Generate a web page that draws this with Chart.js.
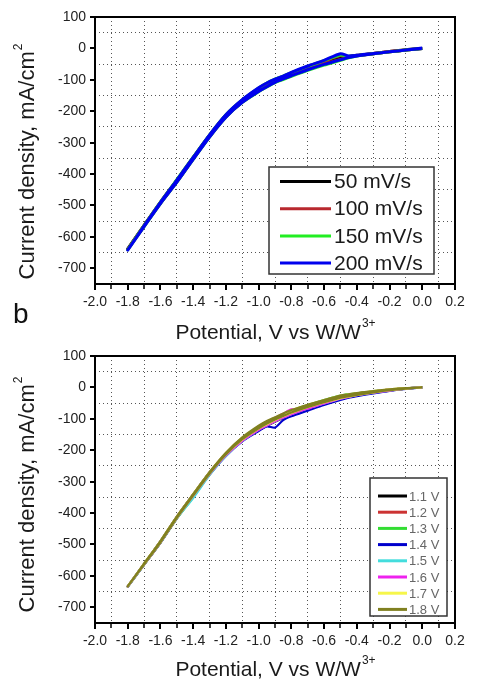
<!DOCTYPE html>
<html>
<head>
<meta charset="utf-8">
<script src="https://cdn.jsdelivr.net/npm/chart.js@4"></script>
<style>
  body { margin: 0; background: #fff; width: 479px; height: 690px; overflow: hidden; position: relative; }
  canvas { position: absolute; left: 0; }
  #chartA { top: 0; }
  #chartB { top: 345px; }
</style>
</head>
<body>
<canvas id="chartA" width="479" height="345"></canvas>
<canvas id="chartB" width="479" height="345"></canvas>
<script>
const FONT = "Arial, 'Liberation Sans', sans-serif";

// potential scan: forward (0 -> -1.8 V) then back to 0
const scanFwd = [0, -0.1, -0.2, -0.3, -0.4, -0.45, -0.5, -0.6, -0.7, -0.8, -0.85, -0.9, -0.95, -1.0, -1.1, -1.2, -1.3, -1.4, -1.5, -1.6, -1.7, -1.8];
const scanRev = [-1.7, -1.6, -1.5, -1.4, -1.3, -1.2, -1.1, -1.0, -0.95, -0.9, -0.85, -0.8, -0.7, -0.6, -0.5, -0.45, -0.4, -0.3, -0.2, -0.1, 0];

// (a) scan rates
const rateLabels = ['50 mV/s', '100 mV/s', '150 mV/s', '200 mV/s'];
const rateColors = ['#000000', '#b8282e', '#22ee22', '#0000ee'];
const j50 = [0, -4, -10, -16, -22, -26, -31, -47, -65, -84, -94, -105, -119, -134, -170, -217, -280, -351, -424, -492, -565, -638,
             -563, -490, -420, -348, -277, -213, -166, -129, -113, -101, -91, -80, -61, -43, -27, -27, -23, -17, -11, -5, 0];
const j100 = [0, -5, -10, -16, -23, -28, -35, -50, -67, -86, -96, -107, -121, -136, -171, -218, -281, -352, -425, -493, -566, -640,
              -563, -489, -419, -347, -276, -212, -165, -127, -111, -99, -89, -78, -59, -41, -23, -26, -23, -17, -11, -5, 0];
const j150 = [0, -5, -11, -17, -24, -30, -38, -53, -70, -89, -99, -109, -123, -138, -172, -219, -282, -353, -426, -494, -567, -641,
              -564, -489, -418, -346, -275, -211, -164, -126, -110, -98, -88, -77, -57, -39, -21, -25, -23, -17, -11, -5, 0];
const j200 = [0, -5, -11, -17, -24, -29, -36, -51, -68, -87, -97, -108, -122, -137, -172, -219, -282, -353, -426, -494, -567, -642,
              -565, -490, -419, -347, -275, -211, -163, -125, -110, -98, -88, -76, -56, -38, -17, -24, -22, -16, -11, -5, 1];
const rateData = [j50, j100, j150, j200];

// (b) charge voltages
const voltLabels = ['1.1 V', '1.2 V', '1.3 V', '1.4 V', '1.5 V', '1.6 V', '1.7 V', '1.8 V'];
const voltColors = ['#000000', '#cc3333', '#33dd33', '#0000cc', '#44dddd', '#ee22ee', '#f6f64a', '#808020'];
const v11 = [0, -4, -10, -17, -26, -31, -37, -52, -68, -86, -97, -109, -122, -136, -170, -216, -276, -345, -416, -494, -564, -634,
             -562, -490, -412, -341, -271, -211, -162, -127, -112, -100, -88, -76, -58, -43, -29, -24, -20, -13, -7, -3, 0];
const v12 = [0, -4, -9, -16, -25, -30, -36, -51, -67, -85, -96, -108, -121, -135, -170, -217, -278, -347, -417, -494, -564, -634,
             -562, -490, -413, -343, -274, -212, -163, -127, -112, -99, -87, -75, -57, -42, -28, -24, -20, -13, -7, -3, 0];
const v13 = [0, -4, -9, -16, -24, -29, -34, -49, -65, -84, -95, -107, -120, -134, -169, -216, -276, -350, -418, -495, -565, -635,
             -563, -491, -413, -342, -272, -211, -162, -126, -111, -99, -87, -74, -56, -40, -26, -22, -19, -13, -7, -3, 0];
const v14 = [0, -5, -11, -19, -28, -33, -40, -56, -74, -92, -104, -128, -124, -139, -172, -218, -277, -346, -416, -494, -564, -634,
             -562, -490, -412, -341, -271, -211, -163, -128, -114, -102, -90, -78, -60, -45, -31, -26, -22, -15, -8, -3, 0];
const v15 = [0, -4, -10, -17, -25, -30, -36, -51, -67, -85, -96, -108, -121, -135, -171, -218, -279, -352, -417, -494, -564, -634,
             -562, -490, -413, -342, -272, -212, -163, -127, -112, -100, -88, -76, -58, -42, -28, -24, -20, -13, -7, -3, 0];
const v16 = [0, -4, -10, -17, -25, -30, -36, -51, -67, -85, -96, -108, -121, -135, -170, -216, -276, -345, -416, -494, -564, -634,
             -562, -490, -412, -341, -271, -210, -161, -125, -110, -97, -84, -70, -68, -44, -29, -24, -20, -13, -7, -3, 0];
const v17 = [0, -4, -9, -16, -24, -29, -34, -48, -63, -81, -92, -104, -117, -131, -166, -213, -274, -344, -415, -493, -563, -633,
             -561, -489, -411, -340, -270, -209, -160, -124, -109, -97, -85, -73, -56, -41, -27, -23, -19, -12, -6, -2, 0];
const v18 = [0, -4, -9, -16, -24, -28, -33, -47, -62, -80, -91, -102, -115, -130, -165, -213, -274, -344, -415, -493, -563, -633,
             -561, -489, -411, -340, -270, -208, -159, -122, -107, -95, -83, -72, -55, -40, -26, -22, -18, -12, -6, -2, 0];
const voltData = [v11, v12, v13, v14, v15, v16, v17, v18];

const scan = scanFwd.concat(scanRev);
const toPoints = arr => arr.map((v, i) => ({ x: scan[i], y: v }));
const isEvenTenth = v => Math.round(v * 10) % 2 === 0;

function makeDatasets(labels, colors, data, width) {
  return labels.map((label, i) => ({
    label: label,
    data: toPoints(data[i]),
    borderColor: colors[i],
    backgroundColor: colors[i],
    borderWidth: width,
    showLine: true,
    pointRadius: 0,
    tension: 0.25,
    order: labels.length - 1 - i   // last series drawn on top
  }));
}

// frame + tick marks round the plot area
const framePlugin = {
  id: 'frame',
  afterDraw(chart) {
    const { ctx, chartArea: a, scales: { x, y } } = chart;
    ctx.save();
    ctx.strokeStyle = '#000';
    x.ticks.forEach(t => {
      const px = Math.round(x.getPixelForValue(t.value));
      const major = isEvenTenth(t.value);
      ctx.lineWidth = major ? 2 : 1.5;
      ctx.beginPath();
      ctx.moveTo(px, a.bottom);
      ctx.lineTo(px, a.bottom + (major ? 6 : 5));
      ctx.stroke();
    });
    y.ticks.forEach(t => {
      if (t.value % 100 !== 0) return;
      const py = Math.round(y.getPixelForValue(t.value));
      ctx.lineWidth = 2;
      ctx.beginPath();
      ctx.moveTo(a.left - 5, py);
      ctx.lineTo(a.left, py);
      ctx.stroke();
    });
    ctx.lineWidth = 2;
    ctx.strokeRect(a.left, a.top, a.right - a.left, a.bottom - a.top);
    ctx.restore();
  }
};

// legend drawn in a box inside the plot
const boxLegend = {
  id: 'boxLegend',
  afterDraw(chart, args, o) {
    const ctx = chart.ctx;
    ctx.save();
    ctx.fillStyle = '#fff';
    ctx.fillRect(o.x, o.y, o.w, o.h);
    ctx.strokeStyle = '#333';
    ctx.lineWidth = 1.5;
    ctx.strokeRect(o.x, o.y, o.w, o.h);
    ctx.font = o.size + 'px ' + FONT;
    ctx.textAlign = 'left';
    ctx.textBaseline = 'middle';
    chart.data.datasets.forEach((d, i) => {
      const cy = o.rowY + i * o.rowGap;
      ctx.strokeStyle = d.borderColor;
      ctx.lineWidth = o.lineWidth;
      ctx.beginPath();
      ctx.moveTo(o.x1, cy);
      ctx.lineTo(o.x2, cy);
      ctx.stroke();
      ctx.fillStyle = o.color;
      ctx.fillText(d.label, o.textX, cy + 1);
    });
    ctx.restore();
  }
};

function supText(ctx, main, sup, size, cx, cy) {
  ctx.font = size + 'px ' + FONT;
  const w1 = ctx.measureText(main).width;
  const small = Math.round(size * 0.55) + 'px ' + FONT;
  ctx.font = small;
  const w2 = ctx.measureText(sup).width;
  const x0 = cx - (w1 + w2) / 2;
  ctx.textAlign = 'left';
  ctx.textBaseline = 'middle';
  ctx.font = size + 'px ' + FONT;
  ctx.fillText(main, x0, cy);
  ctx.font = small;
  ctx.fillText(sup, x0 + w1 + 1, cy - size * 0.42);
}

// axis titles with superscripts, plus the panel letter
const titlesPlugin = {
  id: 'titles',
  afterDraw(chart, args, o) {
    const ctx = chart.ctx;
    ctx.save();
    ctx.fillStyle = '#1a1a1a';
    supText(ctx, 'Potential, V vs W/W', '3+', o.xSize, o.xPos[0], o.xPos[1]);
    ctx.translate(o.yPos[0], o.yPos[1]);
    ctx.rotate(-Math.PI / 2);
    supText(ctx, 'Current density, mA/cm', '2', o.ySize, 0, 0);
    ctx.restore();
    if (o.letter) {
      ctx.save();
      ctx.fillStyle = '#111';
      ctx.font = '28px ' + FONT;
      ctx.textAlign = 'left';
      ctx.textBaseline = 'alphabetic';
      ctx.fillText(o.letter.text, o.letter.x, o.letter.y);
      ctx.restore();
    }
  }
};

function makeScales(xHeight) {
  const tickFont = { family: FONT, size: 14 };
  return {
    x: {
      type: 'linear', min: -2, max: 0.2,
      afterFit(s) { s.height = xHeight; },
      ticks: {
        stepSize: 0.1, autoSkip: false, maxRotation: 0, padding: 10,
        color: '#222', font: tickFont,
        callback: v => isEvenTenth(v) ? v.toFixed(1) : ''
      },
      grid: {
        drawTicks: false, lineWidth: 1,
        color: c => isEvenTenth(c.tick.value) ? 'rgba(0,0,0,0)' : '#555'
      },
      border: { display: false, dash: [1, 3] }
    },
    y: {
      type: 'linear', min: -750, max: 100,
      afterFit(s) { s.width = 95; },
      ticks: {
        stepSize: 50, autoSkip: false, padding: 0, color: '#222', font: tickFont,
        callback: v => v % 100 === 0 ? String(v) : ''
      },
      grid: {
        drawTicks: true, tickLength: 9, tickColor: 'rgba(0,0,0,0)', lineWidth: 1,
        color: c => (c.tick.value % 100 !== 0 && c.tick.value !== -750) ? '#555' : 'rgba(0,0,0,0)'
      },
      border: { display: false, dash: [1, 3] }
    }
  };
}

new Chart(document.getElementById('chartA'), {
  type: 'scatter',
  data: { datasets: makeDatasets(rateLabels, rateColors, rateData, 3) },
  options: {
    responsive: false,
    animation: false,
    layout: { padding: { top: 17, right: 24, bottom: 0, left: 0 } },
    scales: makeScales(61),
    plugins: {
      legend: { display: false },
      tooltip: { enabled: false },
      boxLegend: { x: 269, y: 167, w: 165, h: 107, rowY: 181.5, rowGap: 27.2, x1: 280, x2: 331, textX: 334, size: 21, color: '#1a1a1a', lineWidth: 3 },
      titles: { xPos: [275, 333], xSize: 21, yPos: [28, 162], ySize: 22, letter: { text: 'b', x: 13, y: 323 } }
    }
  },
  plugins: [framePlugin, boxLegend, titlesPlugin]
});

new Chart(document.getElementById('chartB'), {
  type: 'scatter',
  data: { datasets: makeDatasets(voltLabels, voltColors, voltData, 2.2) },
  options: {
    responsive: false,
    animation: false,
    layout: { padding: { top: 11, right: 24, bottom: 8, left: 0 } },
    scales: makeScales(59),
    plugins: {
      legend: { display: false },
      tooltip: { enabled: false },
      boxLegend: { x: 370, y: 133, w: 77, h: 138, rowY: 151, rowGap: 16.2, x1: 378, x2: 407, textX: 409, size: 13, color: '#666', lineWidth: 3 },
      titles: { xPos: [275, 325], xSize: 21, yPos: [28, 150], ySize: 22 }
    }
  },
  plugins: [framePlugin, boxLegend, titlesPlugin]
});
</script>
</body>
</html>
